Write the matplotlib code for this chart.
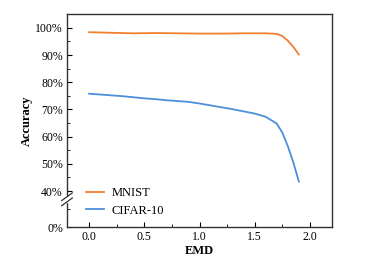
import numpy as np
import matplotlib
matplotlib.use("Agg")
import matplotlib.pyplot as plt
from matplotlib.ticker import FixedLocator, FuncFormatter

plt.rcParams['font.family'] = ['Liberation Serif', 'DejaVu Serif']

# data
mnist_x = [0.0, 0.2, 0.4, 0.6, 0.8, 1.0, 1.2, 1.4, 1.6, 1.7, 1.75, 1.8, 1.85, 1.9]
mnist_y = [98.4, 98.2, 98.0, 98.1, 98.0, 97.9, 97.9, 98.0, 98.0, 97.8, 97.0, 95.3, 93.0, 90.2]

cifar_x = [0.0, 0.1, 0.2, 0.3, 0.4, 0.5, 0.6, 0.7, 0.8, 0.9, 1.0, 1.1, 1.2,
           1.3, 1.4, 1.5, 1.6, 1.7, 1.75, 1.8, 1.85, 1.9]
cifar_y = [75.8, 75.5, 75.2, 74.9, 74.5, 74.1, 73.8, 73.4, 73.1, 72.8, 72.2,
           71.5, 70.8, 70.1, 69.3, 68.5, 67.3, 64.8, 61.5, 56.5, 50.5, 43.5]

y_major = [0, 40, 50, 60, 70, 80, 90, 100]
y_minor = [20, 45, 55, 65, 75, 85, 95]

# compress the range 0-40 % into a short stretch below the break
K = 0.33


def fwd(y):
    y = np.asarray(y, dtype=float)
    return np.where(y >= 40, y, 40 - (40 - y) * K)


def inv(v):
    v = np.asarray(v, dtype=float)
    return np.where(v >= 40, v, 40 - (40 - v) / K)


fig = plt.figure(figsize=(3.8, 2.65), dpi=100)
ax = fig.add_axes([67 / 380, 1 - 227 / 265, 265 / 380, 213 / 265])

ax.plot(mnist_x, mnist_y, color='#F07F30', lw=1.3, label='MNIST')
ax.plot(cifar_x, cifar_y, color='#4C8FDB', lw=1.3, label='CIFAR-10')

ax.set_yscale('function', functions=(fwd, inv))
ax.set_ylim(0, 105.1)
ax.set_xlim(-0.2, 2.2)
ax.yaxis.set_major_locator(FixedLocator(y_major))
ax.yaxis.set_minor_locator(FixedLocator(y_minor))
ax.yaxis.set_major_formatter(FuncFormatter(lambda v, p: f"{v:.0f}%"))
ax.set_xticks([0.0, 0.5, 1.0, 1.5, 2.0])
ax.set_xticks([0.25, 0.75, 1.25, 1.75], minor=True)

ax.tick_params(which='both', direction='in', labelsize=8.5, pad=3)
ax.tick_params(which='major', length=3.5)
ax.tick_params(which='minor', length=2)

for s in ax.spines.values():
    s.set_linewidth(1.0)
    s.set_color('#333333')

ax.set_xlabel('EMD', fontsize=9, fontweight='bold', labelpad=1)
ax.set_ylabel('Accuracy', fontsize=9, fontweight='bold', labelpad=2)

# axis break marks on the left spine
yb = 0.13
ax.add_patch(plt.Rectangle((-0.01, yb - 0.012), 0.02, 0.024, transform=ax.transAxes,
                           color='white', clip_on=False, zorder=5))
for dy in (-0.012, 0.012):
    ax.plot([-0.02, 0.02], [yb + dy - 0.018, yb + dy + 0.018], transform=ax.transAxes,
            color='#333333', lw=0.9, clip_on=False, zorder=6)

ax.legend(loc='lower left', bbox_to_anchor=(0.03, -0.005), frameon=False, fontsize=9,
          handlelength=1.4, handletextpad=0.6, labelspacing=0.45)

fig.savefig('out.png', dpi=100)
